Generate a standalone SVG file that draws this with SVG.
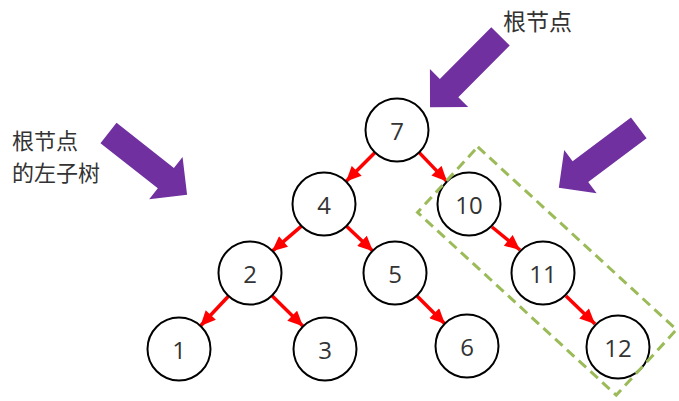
<svg xmlns="http://www.w3.org/2000/svg" width="679" height="401" viewBox="0 0 679 401">
<defs>
<style>
.node circle{fill:#fff;stroke:#000;stroke-width:2}
.node text{font-family:"Open Sans","Noto Sans",sans-serif;font-size:24px;fill:#333;text-anchor:middle;dominant-baseline:central}
.edge{stroke:#f00;stroke-width:3.5;fill:none;marker-end:url(#ah)}
.label{font-family:"Noto Sans CJK SC","Noto Sans",sans-serif;font-size:23px;fill:#333}
.big{fill:#7030A0}
</style>
<marker id="ah" markerUnits="userSpaceOnUse" markerWidth="16" markerHeight="14" refX="13" refY="6" orient="auto" viewBox="0 0 13 12">
<path d="M0,0 L13,6 L0,12 Z" fill="#f00"/>
</marker>
<path id="bigArrow" d="M0,-13 L73,-13 L73,-27 L100,0 L73,27 L73,13 L0,13 Z"/>
</defs>
<g id="labels">
<text class="label" x="503" y="30">根节点</text>
<text class="label" x="12" y="149" style="font-size:22px"><tspan x="12" y="149">根节点</tspan><tspan x="12" y="181">的左子树</tspan></text>
</g>
<g id="pointers" class="big">
<use href="#bigArrow" transform="translate(108.5,133) rotate(38.2)"/>
<use href="#bigArrow" transform="translate(500.5,36.3) rotate(134.8)"/>
<use href="#bigArrow" transform="translate(638.8,127.8) rotate(143.1)"/>
</g>
<g id="connectors">
<line class="edge" x1="375" y1="152.4" x2="346" y2="181.6"/>
<line class="edge" x1="419" y1="152.4" x2="447" y2="181.6"/>
<line class="edge" x1="302" y1="225.7" x2="272" y2="251.3"/>
<line class="edge" x1="346" y1="225.7" x2="373" y2="251.3"/>
<line class="edge" x1="228.6" y1="296" x2="200.4" y2="326"/>
<line class="edge" x1="272" y1="295.7" x2="303" y2="326.3"/>
<line class="edge" x1="417" y1="296" x2="445" y2="324"/>
<line class="edge" x1="492" y1="227" x2="520" y2="250"/>
<line class="edge" x1="566" y1="296" x2="595" y2="324"/>
</g>
<g id="n7" class="node"><circle cx="397" cy="130" r="31.5"/><text x="397" y="130">7</text></g>
<g id="n4" class="node"><circle cx="324" cy="204" r="31.5"/><text x="324" y="204">4</text></g>
<g id="n10" class="node"><circle cx="469" cy="204" r="31.5"/><text x="469" y="204">10</text></g>
<g id="n2" class="node"><circle cx="250" cy="273" r="31.5"/><text x="250" y="273">2</text></g>
<g id="n5" class="node"><circle cx="395" cy="273" r="31.5"/><text x="395" y="273">5</text></g>
<g id="n11" class="node"><circle cx="543" cy="273" r="31.5"/><text x="543" y="273">11</text></g>
<g id="n1" class="node"><circle cx="179" cy="349" r="31.5"/><text x="179" y="349">1</text></g>
<g id="n3" class="node"><circle cx="325" cy="349" r="31.5"/><text x="325" y="349">3</text></g>
<g id="n6" class="node"><circle cx="467" cy="346" r="31.5"/><text x="467" y="346">6</text></g>
<g id="n12" class="node"><circle cx="618" cy="347" r="31.5"/><text x="618" y="347">12</text></g>
<g id="subtree">
<rect x="-135" y="-44.5" width="270" height="89" transform="translate(547,271) rotate(42.6)" fill="none" stroke="#9BBB59" stroke-width="3" stroke-dasharray="10,6"/>
</g>
</svg>
